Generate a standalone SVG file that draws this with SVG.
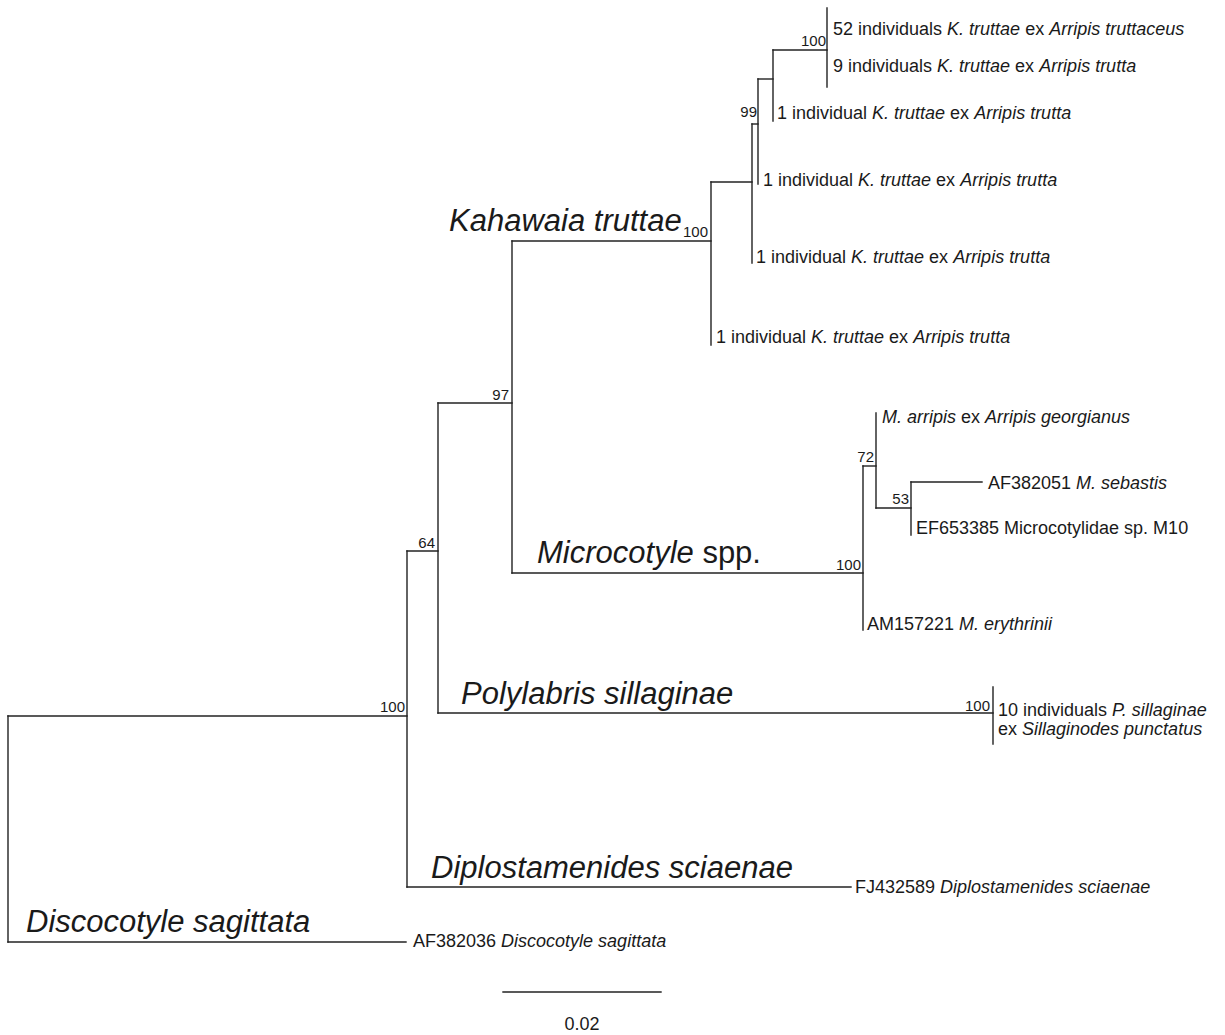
<svg xmlns="http://www.w3.org/2000/svg" width="1225" height="1035" viewBox="0 0 1225 1035">
<style>
text{font-family:"Liberation Sans",Arial,Helvetica,sans-serif;fill:#1a1a1a}
.leaf{font-size:18px}
.bs{font-size:15px;text-anchor:end}
.clade{font-size:31px;font-style:italic}
.i{font-style:italic}
.n{font-style:normal}
.br{fill:none;stroke:#222;stroke-width:1.4;stroke-linecap:square}
</style>
<rect width="1225" height="1035" fill="#fff"/>
<g id="connectors" class="br">
<path d="M8,716 V942"/>
<path d="M8,716 H407"/>
<path d="M8,942 H406"/>
<path d="M407,551 V887"/>
<path d="M407,551 H438"/>
<path d="M407,887 H851"/>
<path d="M438,403 V713"/>
<path d="M438,403 H512"/>
<path d="M438,713 H993"/>
<path d="M512,241 V573"/>
<path d="M512,241 H711"/>
<path d="M512,573 H863"/>
<path d="M711,182 V345"/>
<path d="M711,182 H752"/>
<path d="M752,124 V263"/>
<path d="M752,124 H758"/>
<path d="M758,79 V184"/>
<path d="M758,79 H773"/>
<path d="M773,50 V121"/>
<path d="M773,50 H827"/>
<path d="M827,8 V87"/>
<path d="M863,466 V630"/>
<path d="M863,466 H876"/>
<path d="M876,413 V508"/>
<path d="M876,508 H911"/>
<path d="M911,482 V535"/>
<path d="M911,482 H982"/>
<path d="M993,687 V744"/>
</g>
<g id="node-kahawaia-100"><text class="bs" x="826" y="46">100</text></g>
<g id="node-kahawaia-99"><text class="bs" x="757" y="117">99</text></g>
<g id="node-kahawaia-clade">
<text class="clade" x="449" y="231">Kahawaia truttae</text>
<text class="bs" x="708" y="237">100</text>
</g>
<g id="node-97"><text class="bs" x="509" y="400">97</text></g>
<g id="node-64"><text class="bs" x="435" y="548">64</text></g>
<g id="node-root-100"><text class="bs" x="405" y="712">100</text></g>
<g id="node-microcotyle-clade">
<text class="clade" x="537" y="563">Microcotyle<tspan class="n"> spp.</tspan></text>
<text class="bs" x="861" y="570">100</text>
</g>
<g id="node-72"><text class="bs" x="874" y="462">72</text></g>
<g id="node-53"><text class="bs" x="909" y="504">53</text></g>
<g id="node-polylabris-clade">
<text class="clade" x="461" y="704">Polylabris sillaginae</text>
<text class="bs" x="990" y="711">100</text>
</g>
<g id="node-diplostamenides-clade"><text class="clade" x="431" y="878">Diplostamenides sciaenae</text></g>
<g id="node-discocotyle-clade"><text class="clade" x="26" y="932">Discocotyle sagittata</text></g>

<g id="leaf-k1"><text class="leaf" x="833" y="35">52 individuals <tspan class="i">K. truttae</tspan> ex <tspan class="i">Arripis truttaceus</tspan></text></g>
<g id="leaf-k2"><text class="leaf" x="833" y="72">9 individuals <tspan class="i">K. truttae</tspan> ex <tspan class="i">Arripis trutta</tspan></text></g>
<g id="leaf-k3"><text class="leaf" x="777" y="119">1 individual <tspan class="i">K. truttae</tspan> ex <tspan class="i">Arripis trutta</tspan></text></g>
<g id="leaf-k4"><text class="leaf" x="763" y="186">1 individual <tspan class="i">K. truttae</tspan> ex <tspan class="i">Arripis trutta</tspan></text></g>
<g id="leaf-k5"><text class="leaf" x="756" y="263">1 individual <tspan class="i">K. truttae</tspan> ex <tspan class="i">Arripis trutta</tspan></text></g>
<g id="leaf-k6"><text class="leaf" x="716" y="343">1 individual <tspan class="i">K. truttae</tspan> ex <tspan class="i">Arripis trutta</tspan></text></g>
<g id="leaf-m1"><text class="leaf" x="882" y="423"><tspan class="i">M. arripis</tspan> ex <tspan class="i">Arripis georgianus</tspan></text></g>
<g id="leaf-m2"><text class="leaf" x="988" y="489">AF382051 <tspan class="i">M. sebastis</tspan></text></g>
<g id="leaf-m3"><text class="leaf" x="916" y="534">EF653385 Microcotylidae sp. M10</text></g>
<g id="leaf-m4"><text class="leaf" x="867" y="630">AM157221 <tspan class="i">M. erythrinii</tspan></text></g>
<g id="leaf-p1">
<text class="leaf" x="998" y="716">10 individuals <tspan class="i">P. sillaginae</tspan></text>
<text class="leaf" x="998" y="735">ex <tspan class="i">Sillaginodes punctatus</tspan></text>
</g>
<g id="leaf-d1"><text class="leaf" x="855" y="893">FJ432589 <tspan class="i">Diplostamenides sciaenae</tspan></text></g>
<g id="leaf-dc1"><text class="leaf" x="413" y="947">AF382036 <tspan class="i">Discocotyle sagittata</tspan></text></g>

<g id="scale-bar">
<line class="br" x1="503" y1="992" x2="661" y2="992"/>
<text class="leaf" x="582" y="1030" text-anchor="middle">0.02</text>
</g>
</svg>
